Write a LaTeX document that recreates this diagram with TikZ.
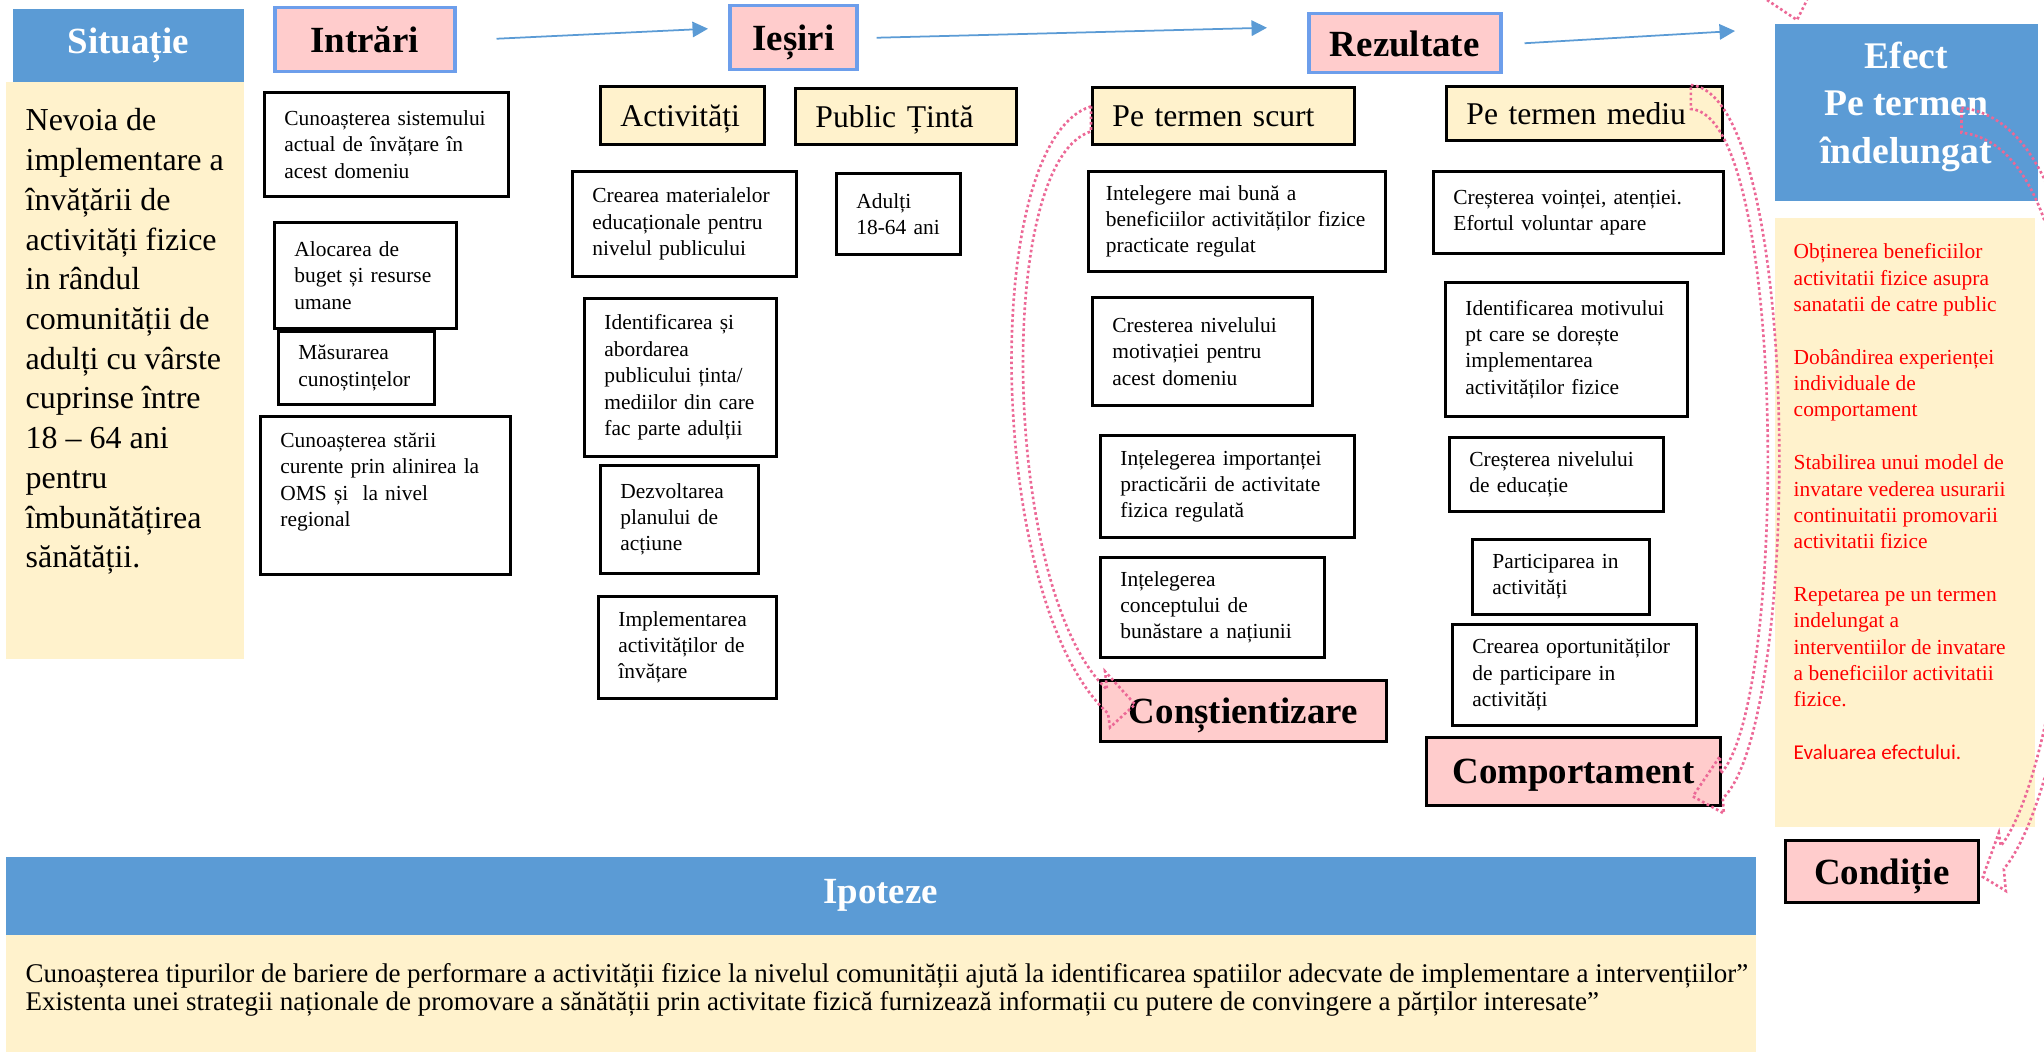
\documentclass[tikz,border=0pt]{standalone}
\usepackage{fontspec}
\setmainfont{Liberation Serif}
\newfontfamily\calibrifont{Carlito}
\usetikzlibrary{shapes,arrows.meta,positioning,calc}

\definecolor{hdrblue}{RGB}{91,155,213}
\definecolor{creambg}{RGB}{255,242,204}
\definecolor{pinkbg}{RGB}{255,204,204}
\definecolor{edgeblue}{RGB}{109,158,235}
\definecolor{dotpink}{RGB}{236,104,150}

\newcommand{\headfont}{\fontsize{10.5}{12.6}\selectfont\bfseries}
\newcommand{\efectfont}{\fontsize{10.7}{13.4}\selectfont\bfseries}
\newcommand{\subfont}{\fontsize{9}{10.8}\selectfont}
\newcommand{\sitfont}{\fontsize{9.1}{11.3}\selectfont}
\newcommand{\cellfont}{\fontsize{6.1}{7.5}\selectfont}
\newcommand{\ipfont}{\fontsize{7.68}{7.9}\selectfont}

\begin{document}
\begin{tikzpicture}
    % Define styles
    \tikzstyle{cell} = [rectangle, draw, line width=0.8pt, anchor=north west,
        align=left, inner xsep=0.2cm, inner ysep=0pt, font=\cellfont]
    \tikzstyle{subhead} = [cell, fill=creambg, font=\subfont, text depth=0pt]
    \tikzstyle{stage} = [rectangle, draw=edgeblue, line width=1pt, fill=pinkbg,
        anchor=north west, inner sep=0pt, text depth=0pt, font=\headfont]
    \tikzstyle{goal} = [stage, draw=black, line width=0.8pt]
    \tikzstyle{bluehead} = [rectangle, fill=hdrblue, text=white, anchor=north west,
        inner sep=0pt, align=center, font=\headfont]
    \tikzstyle{panel} = [rectangle, fill=creambg, anchor=north west, inner sep=0pt]
    \tikzstyle{textblock} = [anchor=north west, inner sep=0pt, align=left]
    \tikzstyle{arrow} = [draw=hdrblue, line width=0.5pt,
        -{Triangle[length=4.4pt,width=4.4pt]}]
    \tikzstyle{pinkdots} = [draw=dotpink, line width=0.75pt,
        dash pattern=on 0.75pt off 0.75pt]

    \useasboundingbox (0,0) rectangle (20.44,-10.52);

    % Situatie
    \node [bluehead, minimum width=2.31cm, minimum height=0.73cm] (sithead) at (0.12,-0.08) {Situație};
    \node [panel, minimum width=2.38cm, minimum height=5.77cm] (sitbody) at (0.05,-0.81) {};
    \node [textblock, font=\sitfont] (sittext) at ([xshift=0.2cm,yshift=-0.27cm]sitbody.north west)
        {Nevoia de\\implementare a\\învățării de\\activități fizice\\in rândul\\comunității de\\adulți cu vârste\\cuprinse între\\18 – 64 ani\\pentru\\îmbunătățirea\\sănătății.};

    % Stages
    \node [stage, minimum width=1.80cm, minimum height=0.64cm] (inhead) at (2.73,-0.06) {Intrări};
    \node [stage, minimum width=1.27cm, minimum height=0.64cm] (outhead) at (7.28,-0.04) {Ieșiri};
    \node [stage, minimum width=1.92cm, minimum height=0.59cm] (rezhead) at (13.07,-0.12) {Rezultate};

    % Inputs
    \node [cell, minimum height=1.04cm, text width=2.04cm] (sist) at (2.63,-0.91) {Cunoașterea sistemului\\actual de învățare în\\acest domeniu};
    \node [cell, minimum height=1.06cm, text width=1.42cm] (alloc) at (2.73,-2.21) {Alocarea de\\buget și resurse\\umane};
    \node [cell, minimum height=0.73cm, text width=1.16cm] (masur) at (2.77,-3.30) {Măsurarea\\cunoștințelor};
    \node [cell, minimum height=1.58cm, text width=2.10cm] (stare) at (2.59,-4.15) {Cunoașterea stării\\curente prin alinirea la\\OMS și~ la nivel\\regional\\[1.5pt]\mbox{}};

    % Outputs
    \node [subhead, minimum height=0.58cm, text width=1.24cm] (acthead) at (5.99,-0.85) {Activități};
    \node [subhead, minimum height=0.56cm, text width=1.81cm] (pubhead) at (7.94,-0.87) {Public Țintă};
    \node [cell, minimum height=1.05cm, text width=1.84cm] (creare) at (5.71,-1.70) {Crearea materialelor\\educaționale pentru\\nivelul publicului};
    \node [cell, minimum height=0.81cm, text width=0.84cm] (adulti) at (8.35,-1.72) {Adulți\\18-64 ani};
    \node [cell, minimum height=1.58cm, text width=1.52cm] (ident) at (5.83,-2.97) {Identificarea și\\abordarea\\publicului ținta/\\mediilor din care\\fac parte adulții};
    \node [cell, minimum height=1.08cm, text width=1.18cm] (dezv) at (5.99,-4.64) {Dezvoltarea\\planului de\\acțiune};
    \node [cell, minimum height=1.02cm, text width=1.38cm] (impl) at (5.97,-5.95) {Implementarea\\activităților de\\învățare};

    % Short term results
    \node [subhead, minimum height=0.57cm, text width=2.22cm] (scurthead) at (10.91,-0.86) {Pe termen scurt};
    \node [cell, minimum height=1.00cm, text width=2.62cm, inner xsep=0.175cm] (intel) at (10.87,-1.70) {Intelegere mai bună a\\beneficiilor activităților fizice\\practicate regulat};
    \node [cell, minimum height=1.08cm, text width=1.80cm] (crest) at (10.91,-2.96) {Cresterea nivelului\\motivației pentru\\acest domeniu};
    \node [cell, minimum height=1.02cm, text width=2.14cm] (import) at (10.99,-4.34) {Ințelegerea importanței\\practicării de activitate\\fizica regulată};
    \node [cell, minimum height=1.00cm, text width=1.84cm] (concept) at (10.99,-5.56) {Ințelegerea\\conceptului de\\bunăstare a națiunii};
    \node [goal, minimum width=2.86cm, minimum height=0.61cm] (constient) at (10.99,-6.79) {Conștientizare};

    % Medium term results
    \node [subhead, minimum height=0.54cm, text width=2.36cm] (mediuhead) at (14.45,-0.85) {Pe termen mediu};
    \node [cell, minimum height=0.82cm, text width=2.50cm] (voint) at (14.32,-1.70) {Creșterea voinței, atenției.\\Efortul voluntar apare};
    \node [cell, minimum height=1.34cm, text width=2.02cm] (motiv) at (14.44,-2.81) {Identificarea motivului\\pt care se dorește\\implementarea\\activităților fizice};
    \node [cell, minimum height=0.74cm, text width=1.74cm] (educ) at (14.48,-4.36) {Creșterea nivelului\\de educație};
    \node [cell, minimum height=0.75cm, text width=1.37cm] (partic) at (14.71,-5.38) {Participarea in\\activități};
    \node [cell, minimum height=1.01cm, text width=2.04cm] (oport) at (14.51,-6.23) {Crearea oportunităților\\de participare in\\activități};
    \node [goal, minimum width=2.94cm, minimum height=0.68cm] (comport) at (14.25,-7.36) {Comportament};

    % Long term effect
    \node [bluehead, minimum width=2.63cm, minimum height=1.77cm, font=\efectfont] (efhead) at (17.74,-0.23) {Efect\\Pe termen\\îndelungat\\[-8pt]\mbox{}};
    \node [panel, minimum width=2.60cm, minimum height=6.09cm] (efbody) at (17.74,-2.17) {};
    \node [textblock, font=\cellfont, text=red] (eftext) at ([xshift=0.19cm,yshift=-0.26cm]efbody.north west)
        {Obținerea beneficiilor\\activitatii fizice asupra\\sanatatii de catre public\\[7.5pt]%
         Dobândirea experienței\\individuale de\\comportament\\[7.5pt]%
         Stabilirea unui model de\\invatare vederea usurarii\\continuitatii promovarii\\activitatii fizice\\[7.5pt]%
         Repetarea pe un termen\\indelungat a\\interventiilor de invatare\\a beneficiilor activitatii\\fizice.\\[7.5pt]%
         {\calibrifont\fontsize{6}{7.5}\selectfont Evaluarea efectului.}};
    \node [goal, minimum width=1.93cm, minimum height=0.62cm] (condhead) at (17.84,-8.39) {Condiție};

    % Hypotheses
    \node [bluehead, minimum width=17.50cm, minimum height=0.78cm] (iphead) at (0.05,-8.56) {Ipoteze};
    \node [panel, minimum width=17.50cm, minimum height=1.18cm] (ipbody) at (0.05,-9.34) {};
    \node [textblock, font=\ipfont] (iptext) at ([xshift=0.2cm,yshift=-0.29cm]ipbody.north west)
        {Cunoașterea tipurilor de bariere de performare a activității fizice la nivelul comunității ajută la identificarea spatiilor adecvate de implementare a intervențiilor”\\Existenta unei strategii naționale de promovare a sănătății prin activitate fizică furnizează informații cu putere de convingere a părților interesate”};

    % Arrows
    \draw [arrow] ([xshift=0.4cm,yshift=0.01cm]inhead.east) -- ([xshift=-0.2cm,yshift=0.09cm]outhead.west);
    \draw [arrow] ([xshift=0.18cm]outhead.east) -- ([xshift=-0.4cm,yshift=0.155cm]rezhead.west);
    \draw [arrow] ([xshift=0.22cm]rezhead.east) -- ([xshift=-0.39cm,yshift=-0.08cm]efhead.north west);

    % Curved dotted arrows
    \begin{scope}
        \clip (0,0) rectangle (20.44,-10.52);
        \draw [pinkdots] ([yshift=0.095cm]scurthead.west)
            .. controls +(-1.12,-0.35) and +(-1.22,1.12) .. ([xshift=0.09cm,yshift=-0.025cm]constient.west)
            -- ([xshift=0.11cm,yshift=-0.165cm]constient.west)
            -- ([xshift=0.36cm,yshift=0.065cm]constient.west)
            -- ([xshift=0.06cm,yshift=0.395cm]constient.west)
            -- ([xshift=0.08cm,yshift=0.215cm]constient.west)
            .. controls +(-1.05,0.98) and +(-0.97,-0.30) .. ([yshift=-0.155cm]scurthead.west) -- cycle;
        \draw [pinkdots] ([xshift=-0.33cm]mediuhead.north east)
            .. controls +(1.12,-0.10) and +(0.80,0.77) .. ([xshift=0.01cm,yshift=-0.27cm]comport.east)
            -- ([xshift=0.02cm,yshift=-0.42cm]comport.east)
            -- ([xshift=-0.29cm,yshift=-0.25cm]comport.east)
            -- ([xshift=-0.02cm,yshift=0.15cm]comport.east)
            -- ([xshift=-0.01cm,yshift=-0.02cm]comport.east)
            .. controls +(0.67,0.72) and +(0.97,-0.06) .. ([xshift=-0.33cm,yshift=-0.24cm]mediuhead.north east) -- cycle;
        \draw [pinkdots] ([xshift=-0.77cm,yshift=0.045cm]efhead.east)
            .. controls +(1.90,-0.23) and +(0.89,1.06) .. ([xshift=0.24cm,yshift=0.025cm]condhead.east)
            -- ([xshift=0.26cm,yshift=-0.195cm]condhead.east)
            -- ([xshift=0.03cm,yshift=-0.055cm]condhead.east)
            -- ([xshift=0.19cm,yshift=0.385cm]condhead.east)
            -- ([xshift=0.21cm,yshift=0.255cm]condhead.east)
            .. controls +(0.77,0.98) and +(1.70,-0.18) .. ([xshift=-0.77cm,yshift=-0.205cm]efhead.east) -- cycle;
        \draw [pinkdots] ([xshift=-0.07cm,yshift=0.23cm]efhead.north west)
            -- ([xshift=0.23cm,yshift=0.03cm]efhead.north west)
            -- ([xshift=0.33cm,yshift=0.23cm]efhead.north west);
    \end{scope}

\end{tikzpicture}
\end{document}
